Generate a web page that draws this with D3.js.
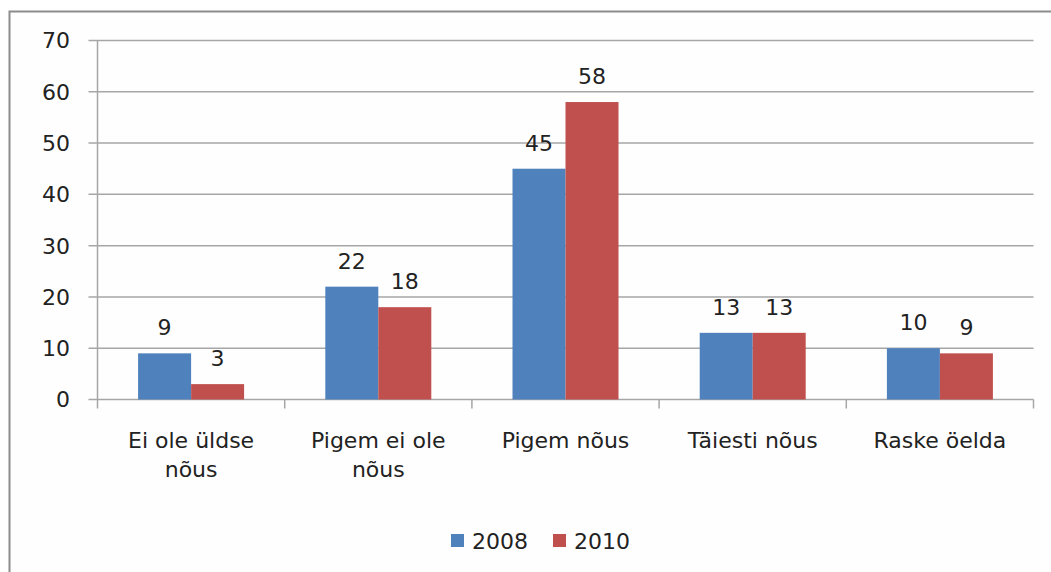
<!DOCTYPE html>
<html>
<head>
<meta charset="utf-8">
<script src="https://cdn.jsdelivr.net/npm/d3@7"></script>
<style>
  body { margin: 0; background: #fff; }
  svg { font-family: "DejaVu Sans", sans-serif; }
</style>
</head>
<body>
<div id="chart"></div>
<script>
const categories = [["Ei ole üldse", "nõus"], ["Pigem ei ole", "nõus"], ["Pigem nõus"], ["Täiesti nõus"], ["Raske öelda"]];
const series = ["2008", "2010"];
const values2008 = [9, 22, 45, 13, 10];
const values2010 = [3, 18, 58, 13, 9];
const yTicks = [0, 10, 20, 30, 40, 50, 60, 70];
const colors = ["#4F81BD", "#C0504D"];

const WIDTH = 1051;
const HEIGHT = 572;
const LEFT = 97.5;
const RIGHT = 1033.5;
const TOP = 40.5;
const BOTTOM = 399.5;
const FONT = "22px";

const svg = d3.select("#chart")
  .append("svg")
  .attr("width", WIDTH)
  .attr("height", HEIGHT);

// outer frame
svg.append("rect")
  .attr("x", 9.5)
  .attr("y", 11.5)
  .attr("width", WIDTH + 20)
  .attr("height", HEIGHT + 20)
  .attr("fill", "#fefefe")
  .attr("stroke", "#8c8c8c")
  .attr("stroke-width", 2);

const xScale = d3.scaleBand()
  .domain(d3.range(categories.length))
  .range([LEFT, RIGHT])
  .paddingInner(0)
  .paddingOuter(0);

const inner = d3.scaleBand()
  .domain(series)
  .range([0, xScale.bandwidth()])
  .paddingInner(0)
  .paddingOuter(0.766);

const yScale = d3.scaleLinear()
  .domain([0, 70])
  .range([BOTTOM, TOP]);

// grid
svg.append("g")
  .selectAll("line")
  .data(yTicks)
  .enter()
  .append("line")
  .attr("x1", LEFT - 9)
  .attr("x2", RIGHT)
  .attr("y1", d => yScale(d))
  .attr("y2", d => yScale(d))
  .attr("stroke", "#a6a6a6")
  .attr("stroke-width", 1.5);

// y labels
svg.append("g")
  .selectAll("text")
  .data(yTicks)
  .enter()
  .append("text")
  .attr("x", 70)
  .attr("y", d => yScale(d))
  .attr("dy", "0.36em")
  .attr("text-anchor", "end")
  .style("font-size", FONT)
  .attr("fill", "#222")
  .text(d => d);

// bars
const data = values2008.map((v, i) => [v, values2010[i]]);
const groups = svg.append("g")
  .selectAll("g")
  .data(data)
  .enter()
  .append("g")
  .attr("transform", (d, i) => `translate(${xScale(i)},0)`);

groups.selectAll("rect")
  .data(d => d.map((v, j) => ({ v, s: series[j], j })))
  .enter()
  .append("rect")
  .attr("x", d => inner(d.s))
  .attr("y", d => yScale(d.v))
  .attr("width", inner.bandwidth())
  .attr("height", d => BOTTOM - yScale(d.v))
  .attr("fill", d => colors[d.j]);

groups.selectAll("text")
  .data(d => d.map((v, j) => ({ v, s: series[j], j })))
  .enter()
  .append("text")
  .attr("x", d => inner(d.s) + inner.bandwidth() / 2)
  .attr("y", d => yScale(d.v) - 18)
  .attr("text-anchor", "middle")
  .style("font-size", FONT)
  .attr("fill", "#222")
  .text(d => d.v);

// y axis line
svg.append("line")
  .attr("x1", LEFT).attr("x2", LEFT)
  .attr("y1", TOP).attr("y2", BOTTOM)
  .attr("stroke", "#a6a6a6")
  .attr("stroke-width", 1.5);

// x axis ticks
svg.append("g")
  .selectAll("line")
  .data(d3.range(categories.length + 1))
  .enter()
  .append("line")
  .attr("x1", i => LEFT + i * xScale.bandwidth())
  .attr("x2", i => LEFT + i * xScale.bandwidth())
  .attr("y1", BOTTOM)
  .attr("y2", BOTTOM + 9)
  .attr("stroke", "#a6a6a6")
  .attr("stroke-width", 1.5);

// category labels
const catLabels = svg.append("g")
  .selectAll("text")
  .data(categories)
  .enter()
  .append("text")
  .attr("x", (d, i) => xScale(i) + xScale.bandwidth() / 2)
  .attr("y", 448)
  .attr("text-anchor", "middle")
  .style("font-size", FONT)
  .attr("fill", "#222");

catLabels.selectAll("tspan")
  .data(d => d)
  .enter()
  .append("tspan")
  .attr("x", function () { return d3.select(this.parentNode).attr("x"); })
  .attr("dy", (d, i) => i === 0 ? 0 : 29)
  .text(d => d);

// legend
const legend = svg.append("g");
const legendX = [451, 553];
series.forEach((s, i) => {
  legend.append("rect")
    .attr("x", legendX[i])
    .attr("y", 534)
    .attr("width", 13)
    .attr("height", 13)
    .attr("fill", colors[i]);
  legend.append("text")
    .attr("x", legendX[i] + 21)
    .attr("y", 549)
    .style("font-size", FONT)
    .attr("fill", "#222")
    .text(s);
});
</script>
</body>
</html>
